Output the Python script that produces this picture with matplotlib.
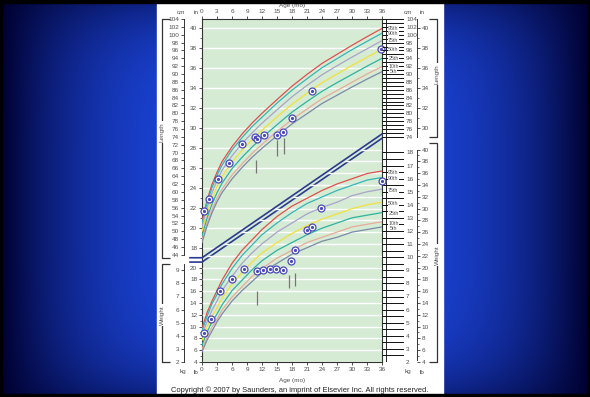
import numpy as np
import matplotlib
matplotlib.use("Agg")
import matplotlib.pyplot as plt
from matplotlib.patches import Polygon, Rectangle

plt.rcParams['font.family'] = ['Liberation Sans', 'DejaVu Sans']

# ---------------- data ----------------
ages = [0, 1, 2, 3, 4, 6, 8, 10, 12, 15, 18, 21, 24, 27, 30, 33, 36]
pct_names = ['95th', '90th', '75th', '50th', '25th', '10th', '5th']
pct_colors = ['#e0504c', '#35b5b8', '#a9a3cc', '#f2e03c', '#2cb3a0', '#e8ab9a', '#7a8aa8']

len_p95 = [52.5, 57.8, 61.9, 65.0, 67.7, 71.5, 74.7, 77.5, 80.0, 83.5, 86.9, 89.9, 92.7, 95.0, 97.3, 99.5, 101.6]
len_p90 = [51.9, 57.1, 61.1, 64.2, 66.8, 70.7, 73.8, 76.6, 79.0, 82.6, 85.9, 88.8, 91.6, 93.9, 96.2, 98.3, 100.4]
len_p75 = [51.0, 56.0, 59.8, 62.9, 65.5, 69.2, 72.3, 75.0, 77.5, 80.9, 84.2, 87.1, 89.8, 92.1, 94.3, 96.4, 98.5]
len_p50 = [49.9, 54.7, 58.4, 61.4, 63.9, 67.6, 70.6, 73.3, 75.7, 79.1, 82.3, 85.1, 87.8, 90.0, 92.2, 94.3, 96.3]
len_p25 = [48.7, 53.3, 56.9, 59.8, 62.2, 65.9, 68.8, 71.4, 73.8, 77.1, 80.3, 83.0, 85.6, 87.8, 89.9, 92.0, 94.0]
len_p10 = [47.7, 52.1, 55.5, 58.4, 60.7, 64.3, 67.1, 69.8, 72.1, 75.4, 78.4, 81.1, 83.7, 85.8, 87.9, 90.0, 91.9]
len_p5 = [47.1, 51.3, 54.7, 57.5, 59.8, 63.3, 66.2, 68.8, 71.1, 74.3, 77.3, 79.9, 82.5, 84.6, 86.7, 88.7, 90.6]

wt_p95 = [4.4, 5.6, 6.5, 7.3, 8.1, 9.4, 10.4, 11.2, 12.0, 13.0, 13.8, 14.4, 15.0, 15.5, 15.9, 16.3, 16.5]
wt_p90 = [4.2, 5.3, 6.3, 7.0, 7.8, 9.0, 10.0, 10.8, 11.6, 12.5, 13.3, 14.0, 14.5, 15.0, 15.4, 15.8, 16.0]
wt_p75 = [3.9, 4.9, 5.8, 6.5, 7.3, 8.4, 9.4, 10.2, 10.9, 11.8, 12.5, 13.2, 13.7, 14.1, 14.6, 14.9, 15.1]
wt_p50 = [3.5, 4.5, 5.3, 6.0, 6.7, 7.8, 8.7, 9.5, 10.2, 11.0, 11.7, 12.3, 12.8, 13.2, 13.6, 13.9, 14.1]
wt_p25 = [3.1, 4.1, 4.9, 5.5, 6.2, 7.3, 8.1, 8.9, 9.6, 10.4, 11.0, 11.6, 12.1, 12.5, 12.9, 13.1, 13.3]
wt_p10 = [2.8, 3.7, 4.5, 5.1, 5.8, 6.8, 7.6, 8.4, 9.0, 9.8, 10.4, 11.0, 11.4, 11.8, 12.2, 12.4, 12.6]
wt_p5 = [2.6, 3.5, 4.2, 4.9, 5.5, 6.5, 7.3, 8.0, 8.7, 9.4, 10.1, 10.6, 11.1, 11.4, 11.8, 12.0, 12.2]

pt_len_age = [0.4, 1.4, 3.2, 5.4, 8.0, 10.6, 11.0, 12.4, 15.0, 16.2, 18.0, 22.0, 35.8]
pt_len_cm = [55.1, 58.2, 63.3, 67.4, 72.2, 74.0, 73.5, 74.5, 74.5, 75.2, 78.8, 85.7, 96.4]
pt_wt_age = [0.4, 1.8, 3.6, 6.0, 8.4, 11.0, 12.2, 13.6, 14.8, 16.2, 17.8, 18.6, 21.0, 22.0, 23.8, 36.0]
pt_wt_kg = [4.06, 5.13, 7.27, 8.18, 8.95, 8.79, 8.87, 8.95, 8.95, 8.87, 9.56, 10.40, 12.0, 12.23, 13.68, 15.74]

mark_len_age = [10.8, 15.0, 16.4]
mark_len_lo = [64.8, 69.1, 69.6]
mark_len_hi = [68.1, 73.2, 73.7]
mark_wt_age = [11.0, 17.4, 18.6]
mark_wt_lo = [6.2, 7.5, 7.65]
mark_wt_hi = [7.27, 8.5, 8.64]

age_ticks = list(range(0, 37, 3))
cm_ticks_left = list(range(44, 105, 2))
in_ticks_left = list(range(18, 41, 2))
kg_ticks_left = list(range(2, 10))
lb_ticks_left = list(range(4, 21, 2))
cm_ticks_right = list(range(74, 105, 2))
in_ticks_right = list(range(30, 41, 2))
kg_ticks_right = list(range(2, 19))
lb_ticks_right = list(range(4, 41, 2))

len_curves = [len_p95, len_p90, len_p75, len_p50, len_p25, len_p10, len_p5]
wt_curves = [wt_p95, wt_p90, wt_p75, wt_p50, wt_p25, wt_p10, wt_p5]

# ---------------- layout ----------------
W, H = 590, 397
fig = plt.figure(figsize=(W / 100, H / 100), dpi=100)


def frac(x0, y0, x1, y1):
    return [x0 / W, 1 - y1 / H, (x1 - x0) / W, (y1 - y0) / H]


PX0, PX1, PY0, PY1 = 202, 382, 19, 362
CM_PX, KG_PX = 3.93, 13.1
CM_LIM = (104 - (PY1 - PY0) / CM_PX, 104)
KG_LIM = (2, 2 + (PY1 - PY0) / KG_PX)
IN, LB = 2.54, 0.45359
TXT = '#505050'
FS = 4.6

# background
bg = fig.add_axes([0, 0, 1, 1], zorder=0)
bg.set_xlim(0, W)
bg.set_ylim(H, 0)
bg.axis('off')
gx = np.linspace(-1, 1, W)
gy = np.linspace(-1, 1, H)
GX, GY = np.meshgrid(gx, gy)
g = np.clip((1 - np.abs(GX) ** 3) * (1 - 0.5 * np.abs(GY) ** 5), 0, 1)
dark = np.array([0.0, 0.0, 0.18])
bright = np.array([0.11, 0.28, 0.88])
img = dark + (bright - dark) * g[..., None]
bg.imshow(img, extent=(0, W, H, 0), aspect='auto', zorder=0)
bg.add_patch(Rectangle((157, 0), 286, H, color='white', zorder=1))

# top / bottom text in bg
bg.text(292, 5.5, 'Age (mo)', fontsize=FS, color=TXT, ha='center', va='center', zorder=2)
bg.text(292, 380.5, 'Age (mo)', fontsize=FS, color=TXT, ha='center', va='center', zorder=2)
for x, s in [(181, 'cm'), (196, 'in'), (408, 'cm'), (422, 'in')]:
    bg.text(x, 12.5, s, fontsize=FS, color=TXT, ha='center', va='center', zorder=2)
for x, s in [(183, 'kg'), (196, 'lb'), (408, 'kg'), (422, 'lb')]:
    bg.text(x, 372, s, fontsize=FS, color=TXT, ha='center', va='center', zorder=2)
bg.text(300, 390, 'Copyright \u00a9 2007 by Saunders, an imprint of Elsevier Inc. All rights reserved.',
        fontsize=5.4, color='#222', ha='center', va='center', zorder=2)

# brackets
bk = dict(color='#333', lw=0.9, zorder=2, solid_capstyle='butt')
bg.plot([170, 162, 162, 170], [19, 19, 258, 258], **bk)
bg.plot([170, 162, 162, 170], [264, 264, 362, 362], **bk)
bg.plot([429, 437, 437, 429], [19, 19, 137, 137], **bk)
bg.plot([429, 437, 437, 429], [143, 143, 362, 362], **bk)
lab = dict(fontsize=FS, color=TXT, ha='center', va='center', zorder=3,
           bbox=dict(fc='white', ec='none', pad=0.6))
bg.text(162, 132, 'Length', rotation=90, **lab)
bg.text(162, 315, 'Weight', rotation=90, **lab)
bg.text(437, 74, 'Length', rotation=90, **lab)
bg.text(437, 255, 'Weight', rotation=90, **lab)

# black frame bands
bg.add_patch(Rectangle((0, 0), W, 3, color='black', zorder=5))
bg.add_patch(Rectangle((0, 393.5), W, 4, color='black', zorder=5))
bg.add_patch(Rectangle((0, 0), 2, H, color='black', zorder=5))
bg.add_patch(Rectangle((W - 2, 0), 2, H, color='black', zorder=5))

# ---------------- main length axes ----------------
ax = fig.add_axes(frac(PX0, PY0, PX1, PY1), zorder=2)
ax.set_facecolor('#d6ebd4')
ax.set_xlim(0, 36)
ax.set_ylim(*CM_LIM)
for s in ax.spines.values():
    s.set_color('#333')
    s.set_linewidth(0.8)
ax.set_xticks(age_ticks)
ax.tick_params(axis='x', top=True, labeltop=True, bottom=True, labelbottom=True,
               direction='out', length=2.5, width=0.6, pad=1, labelsize=FS,
               color='#333', labelcolor=TXT)
ax.set_yticks([v * IN for v in in_ticks_left])
ax.set_yticklabels([str(v) for v in in_ticks_left])
ax.set_yticks([v * IN for v in range(18, 41)], minor=True)
ax.tick_params(axis='y', which='major', direction='out', length=2.5, width=0.6, pad=1,
               labelsize=FS, color='#333', labelcolor=TXT)
ax.tick_params(axis='y', which='minor', direction='out', length=1.5, width=0.5, color='#333')
ax.tick_params(axis='x', which='minor', bottom=False, top=False)

DIAG0, DIAG1 = 42.7, 74.2
above = Polygon([(0, DIAG0), (36, DIAG1), (36, 104), (0, 104)], transform=ax.transData)
below = Polygon([(0, CM_LIM[0]), (36, CM_LIM[0]), (36, DIAG1), (0, DIAG0)], transform=ax.transData)

gl = ax.hlines([v * IN for v in range(18, 42, 2)], 0, 36, color='white', lw=1.0, zorder=1)
gl.set_clip_path(above)

for c, col in zip(len_curves, pct_colors):
    ax.plot(ages, c, color=col, lw=0.9, zorder=3)

ax.vlines(mark_len_age, mark_len_lo, mark_len_hi, color='#777', lw=0.9, zorder=3)
for d in (-0.55, 0.55):
    ax.plot([-2.4, 0, 36], [DIAG0 + d, DIAG0 + d, DIAG1 + d], color='#2b3a8f',
            lw=1.2, zorder=4, clip_on=False)

ax.plot(pt_len_age, pt_len_cm, 'o', ms=5.0, mfc='white', mec='#4a4ab8', mew=0.9,
        zorder=6, clip_on=False)
ax.plot(pt_len_age, pt_len_cm, 'o', ms=1.3, color='#4a4ab8', zorder=7, clip_on=False)

# ---------------- weight overlay axes ----------------
axw = fig.add_axes(frac(PX0, PY0, PX1, PY1), zorder=3)
axw.set_xlim(0, 36)
axw.set_ylim(*KG_LIM)
axw.patch.set_visible(False)
for s in axw.spines.values():
    s.set_visible(False)
axw.set_xticks([])
axw.set_yticks([v * LB for v in lb_ticks_left])
axw.set_yticklabels([str(v) for v in lb_ticks_left])
axw.set_yticks([v * LB for v in range(5, 21)], minor=True)
axw.tick_params(axis='y', which='major', direction='out', length=2.5, width=0.6, pad=1,
                labelsize=FS, color='#333', labelcolor=TXT)
axw.tick_params(axis='y', which='minor', direction='out', length=1.5, width=0.5, color='#333')

glw = axw.hlines([v * LB for v in range(4, 42, 2)], 0, 36, color='white', lw=1.0, zorder=1)
glw.set_clip_path(below)
for c, col in zip(wt_curves, pct_colors):
    axw.plot(ages, c, color=col, lw=0.9, zorder=3)
axw.vlines(mark_wt_age, mark_wt_lo, mark_wt_hi, color='#777', lw=0.9, zorder=3)
axw.plot(pt_wt_age, pt_wt_kg, 'o', ms=5.0, mfc='white', mec='#4a4ab8', mew=0.9,
         zorder=6, clip_on=False)
axw.plot(pt_wt_age, pt_wt_kg, 'o', ms=1.3, color='#4a4ab8', zorder=7, clip_on=False)


def scale_axes(x0, x1, ylim, side):
    a = fig.add_axes(frac(x0, PY0, x1, PY1), zorder=2)
    a.set_xlim(0, 1)
    a.set_ylim(*ylim)
    a.patch.set_visible(False)
    for s in a.spines.values():
        s.set_visible(False)
    a.set_xticks([])
    if side == 'right':
        a.yaxis.tick_right()
    return a


tk = dict(direction='out', length=2.5, width=0.6, pad=1, labelsize=FS, color='#333', labelcolor=TXT)

# left cm ruler
lc = scale_axes(184, 186, CM_LIM, 'left')
lc.spines['left'].set_visible(True)
lc.spines['left'].set_bounds(44, 104)
lc.spines['left'].set_color('#333')
lc.spines['left'].set_linewidth(0.7)
lc.set_yticks(cm_ticks_left)
lc.set_yticklabels([str(v) for v in cm_ticks_left])
lc.tick_params(axis='y', **tk)

lcw = scale_axes(184, 186, KG_LIM, 'left')
lcw.spines['left'].set_visible(True)
lcw.spines['left'].set_bounds(2, 9.5)
lcw.spines['left'].set_color('#333')
lcw.spines['left'].set_linewidth(0.7)
lcw.set_yticks(kg_ticks_left)
lcw.set_yticklabels([str(v) for v in kg_ticks_left])
lcw.tick_params(axis='y', **tk)

# right striped ruler
rr = scale_axes(382, 404, CM_LIM, 'right')
rr.hlines(list(range(74, 105)), 0, 1, color='#111', lw=0.7)
rr.axvline(0.18, ymin=0, ymax=1, color='#222', lw=0.7)
rr.set_yticks(cm_ticks_right)
rr.set_yticklabels([str(v) for v in cm_ticks_right])
rr.tick_params(axis='y', length=0, pad=1.5, labelsize=FS, labelcolor=TXT)
for name, c in zip(pct_names, len_curves):
    rr.text(0.52, c[-1], name, fontsize=3.8, color=TXT, ha='center', va='center',
            bbox=dict(fc='white', ec='none', pad=0.2))

rrw = scale_axes(382, 404, KG_LIM, 'right')
rrw.hlines([2 + 0.5 * i for i in range(33)], 0, 1, color='#111', lw=0.7)
rrw.set_yticks(kg_ticks_right)
rrw.set_yticklabels([str(v) for v in kg_ticks_right])
rrw.tick_params(axis='y', length=0, pad=1.5, labelsize=FS, labelcolor=TXT)
for name, c in zip(pct_names, wt_curves):
    rrw.text(0.52, c[-1], name, fontsize=3.8, color=TXT, ha='center', va='center',
             bbox=dict(fc='white', ec='none', pad=0.2))

# right inch / lb scale
ri = scale_axes(415, 417, CM_LIM, 'right')
ri.spines['right'].set_visible(True)
ri.spines['right'].set_bounds(74, 104)
ri.spines['right'].set_color('#333')
ri.spines['right'].set_linewidth(0.7)
ri.set_yticks([v * IN for v in in_ticks_right])
ri.set_yticklabels([str(v) for v in in_ticks_right])
ri.set_yticks([v * IN for v in range(30, 41)], minor=True)
ri.tick_params(axis='y', which='major', **tk)
ri.tick_params(axis='y', which='minor', direction='out', length=1.5, width=0.5, color='#333')

riw = scale_axes(415, 417, KG_LIM, 'right')
riw.spines['right'].set_visible(True)
riw.spines['right'].set_bounds(2, 40 * LB)
riw.spines['right'].set_color('#333')
riw.spines['right'].set_linewidth(0.7)
riw.set_yticks([v * LB for v in lb_ticks_right])
riw.set_yticklabels([str(v) for v in lb_ticks_right])
riw.set_yticks([v * LB for v in range(5, 41)], minor=True)
riw.tick_params(axis='y', which='major', **tk)
riw.tick_params(axis='y', which='minor', direction='out', length=1.5, width=0.5, color='#333')

fig.savefig('out.png', dpi=100)
